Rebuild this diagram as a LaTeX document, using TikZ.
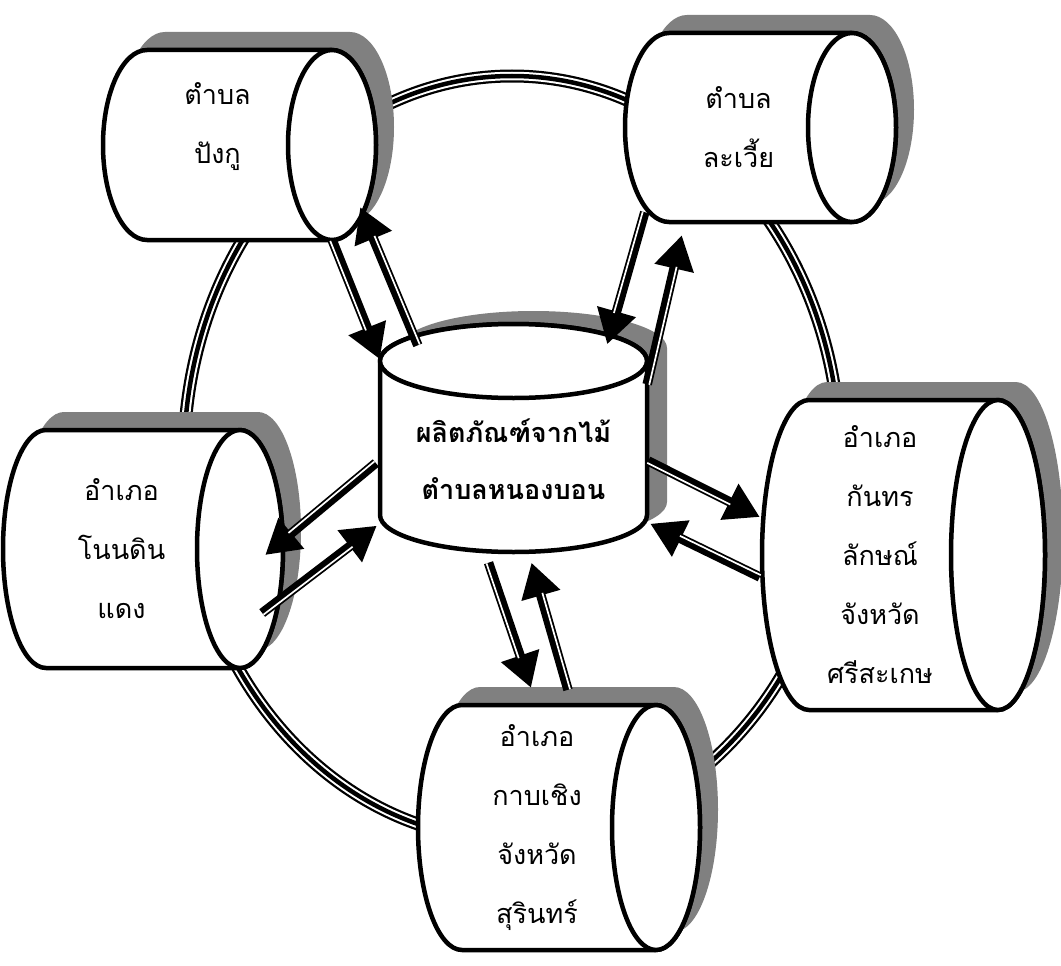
\documentclass[tikz,border=0pt]{standalone}
\usepackage{fontspec}
\newfontfamily\thaifont[Script=Thai]{Loma}
\usetikzlibrary{arrows.meta,calc}

% #1 name, #2 left edge, #3 face centre, #4 top, #5 bottom, #6 face x radius, #7 text, #8 label options
\newcommand\hcan[8]{%
  \fill[canshadow] (#2+#6,#4) -- (#3,#4) arc[start angle=-90,end angle=90,x radius=#6,y radius={(#5-#4)/2}]
    -- (#2+#6,#5) arc[start angle=90,end angle=270,x radius=#6,y radius={(#5-#4)/2}] -- cycle;
  \filldraw[canline] (#2+#6,#4) -- (#3,#4) arc[start angle=-90,end angle=90,x radius=#6,y radius={(#5-#4)/2}]
    -- (#2+#6,#5) arc[start angle=90,end angle=270,x radius=#6,y radius={(#5-#4)/2}] -- cycle;
  \draw[canline] (#3,{(#4+#5)/2}) ellipse [x radius=#6, y radius={(#5-#4)/2}];
  \node[canlabel, minimum width={#3-#2}, minimum height={#5-#4}, #8] (#1) at ({(#2+#3)/2},{(#4+#5)/2}) {#7};
}
\newcommand\flowarrow[2]{%
  \draw[flow] #1 -- #2;
  \draw[flowgap] ($#1!2.1pt!-90:#2$) -- ($#2!2.1pt!90:#1$);
}

\begin{document}
\begin{tikzpicture}[x=1pt,y=-1pt,line join=round]
	\tikzset{
		canline/.style={line width=4.5pt, fill=white},
		canshadow/.style={fill=gray, shift={(18,-18)}},
		canlabel/.style={inner sep=0pt, align=center, font=\thaifont\fontsize{27}{59}\selectfont},
		flow/.style={line width=9.5pt, -{Triangle[length=34pt,width=38pt]}},
		flowgap/.style={white, line width=1.7pt, shorten >=32pt},
		ring/.style={line width=#1}
	}
	\useasboundingbox (0,0) rectangle (1061,966);
	% vong ngoai
	\draw[ring=13pt] (512,458) ellipse [x radius=328, y radius=382];
	\draw[ring=8.5pt, white] (512,458) ellipse [x radius=328, y radius=382];
	\draw[ring=4.5pt] (512,458) ellipse [x radius=328, y radius=382];
	% cac tru ngang
	\hcan{pangu}{103}{332}{50}{240}{44}{ตำบล\\ปังกู}{text depth=44pt}
	\hcan{lawia}{625}{852}{33}{222}{44}{ตำบล\\ละเวี้ย}{}
	\hcan{nondin}{3}{240}{430}{668}{43}{อำเภอ\\โนนดิน\\แดง}{}
	\hcan{kapchoeng}{418}{656}{705}{950}{44}{อำเภอ\\กาบเชิง\\จังหวัด\\สุรินทร์}{}
	\hcan{kanthar}{762}{998}{400}{710}{47}{อำเภอ\\กันทร\\ลักษณ์\\จังหวัด\\ศรีสะเกษ}{}
	% tru giua
	\fill[canshadow, shift={(2,5)}] (380,361) -- (380,515) arc[start angle=180,end angle=0,x radius=133.5,y radius=37]
		-- (647,361) arc[start angle=0,end angle=-180,x radius=133.5,y radius=37] -- cycle;
	\filldraw[canline] (380,361) -- (380,515) arc[start angle=180,end angle=0,x radius=133.5,y radius=37]
		-- (647,361) arc[start angle=0,end angle=-180,x radius=133.5,y radius=37] -- cycle;
	\draw[canline] (513.5,361) ellipse [x radius=133.5, y radius=37];
	\node[canlabel, font=\thaifont\bfseries\fontsize{27}{57}\selectfont,
		minimum width=267, minimum height=191] (hub) at (513.5,459) {ผลิตภัณฑ์จากไม้\\ตำบลหนองบอน};
	% mui ten
	\flowarrow{(pangu.south east)}{([shift={(0,-4)}]hub.north west)}
	\flowarrow{([shift={(38,-18)}]hub.north west)}{([shift={(28,-33)}]pangu.south east)}
	\flowarrow{([shift={(20,-10)}]lawia.south west)}{([shift={(-40,-19)}]hub.north east)}
	\flowarrow{([shift={(0,21)}]hub.north east)}{([shift={(57,13)}]lawia.south west)}
	\flowarrow{([shift={(-4,4)}]hub.west)}{([shift={(25,6)}]nondin.east)}
	\flowarrow{([shift={(22,64)}]nondin.east)}{([shift={(-3,-29)}]hub.south west)}
	\flowarrow{([shift={(1,2)}]hub.east)}{([shift={(-2,-38)}]kanthar.west)}
	\flowarrow{([shift={(-2,22)}]kanthar.west)}{([shift={(3,-31)}]hub.south east)}
	\flowarrow{([shift={(-25,8)}]hub.south)}{([shift={(-6,-17)}]kapchoeng.north)}
	\flowarrow{([shift={(31,-15)}]kapchoeng.north)}{([shift={(18,8)}]hub.south)}
\end{tikzpicture}
\end{document}
